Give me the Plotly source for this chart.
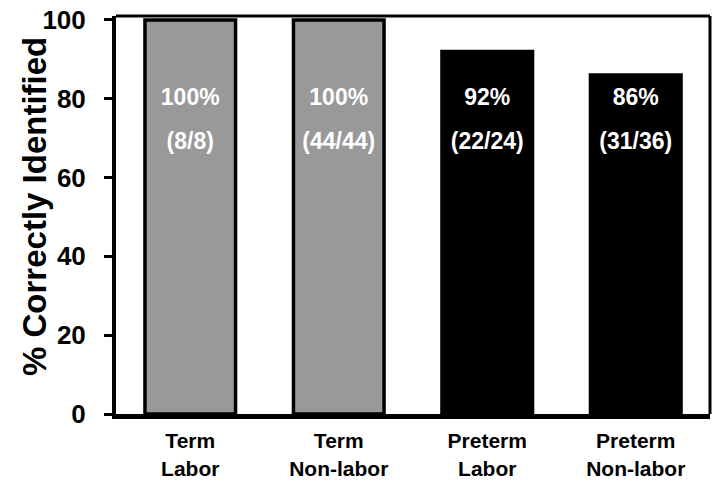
import plotly.graph_objects as go

categories = ["Term<br>Labor", "Term<br>Non-labor", "Preterm<br>Labor", "Preterm<br>Non-labor"]
percent_correct = [100, 100, 92, 86]
pct_labels = ["100%", "100%", "92%", "86%"]
count_labels = ["(8/8)", "(44/44)", "(22/24)", "(31/36)"]
bar_colors = ["#999999", "#999999", "#000000", "#000000"]
y_ticks = [0, 20, 40, 60, 80, 100]

FONT = "Liberation Sans, Arial, sans-serif"

fig = go.Figure()
fig.add_trace(go.Bar(
    x=categories, y=percent_correct,
    marker=dict(color=bar_colors, line=dict(color="black", width=3.5)),
    showlegend=False, hoverinfo="skip",
))
fig.add_trace(go.Scatter(
    x=categories, y=[80] * len(categories), mode="text", text=pct_labels,
    textfont=dict(family=FONT, size=23, color="white", weight="bold"),
    showlegend=False, hoverinfo="skip",
))
fig.add_trace(go.Scatter(
    x=categories, y=[68.6] * len(categories), mode="text", text=count_labels,
    textfont=dict(family=FONT, size=23, color="white", weight="bold"),
    showlegend=False, hoverinfo="skip",
))

fig.update_layout(
    width=719, height=484,
    margin=dict(l=116, r=9, t=16, b=70),
    paper_bgcolor="white", plot_bgcolor="white",
    bargap=0.39,
    font=dict(family=FONT, color="black"),
    shapes=[
        dict(type="line", xref="paper", yref="paper", x0=0, x1=1, y0=1, y1=1,
             line=dict(color="black", width=3)),
        dict(type="line", xref="paper", yref="paper", x0=1, x1=1, y0=0, y1=1,
             line=dict(color="black", width=3)),
    ],
    annotations=[
        dict(text="% Correctly Identified", xref="paper", yref="paper",
             x=(34 - 116) / 594, y=(414 - 207) / 398, xanchor="center", yanchor="middle",
             textangle=-90, showarrow=False,
             font=dict(family=FONT, size=33, color="black", weight="bold")),
    ],
)
fig.update_xaxes(
    showline=True, linecolor="black", linewidth=5, mirror=False,
    ticks="", showgrid=False, zeroline=False, automargin=False,
    ticklabelstandoff=4,
    range=[-0.5, 3.5],
    tickfont=dict(family=FONT, size=21, color="black", weight="bold"),
)
fig.update_yaxes(
    showline=True, linecolor="black", linewidth=4, mirror=False,
    ticks="outside", ticklen=8, tickwidth=3, tickcolor="black",
    ticklabelstandoff=13, ticklabeloverflow="allow",
    showgrid=False, zeroline=False, automargin=False,
    range=[0, 101], tickvals=y_ticks,
    tickfont=dict(family=FONT, size=26, color="black", weight="bold"),
)

fig.write_html("out.html", config={"displayModeBar": False},
               post_script="document.body.style.margin='0';")
